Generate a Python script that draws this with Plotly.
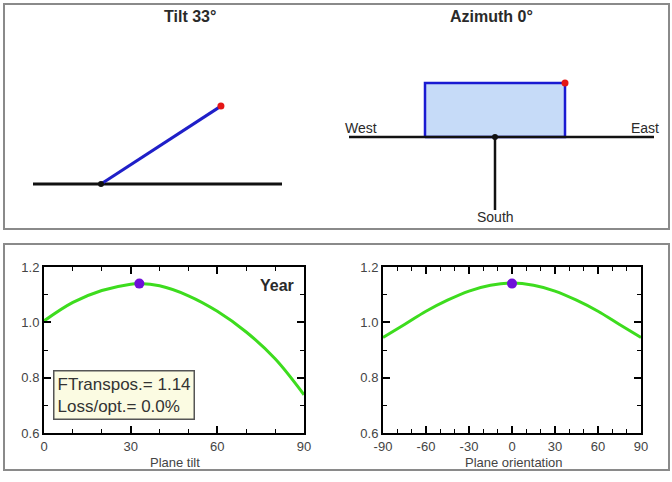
import math
import plotly.graph_objects as go

# ---------------- data ----------------
tilt_deg = 33
azimuth_deg = 0

tilt_x = [0, 10, 20, 30, 33, 40, 50, 60, 70, 80, 90]
tilt_y = [1.005, 1.072, 1.115, 1.138, 1.14, 1.132, 1.096, 1.040, 0.965, 0.868, 0.738]

orient_x = [-90, -75, -60, -45, -30, -15, 0, 15, 30, 45, 60, 75, 90]
orient_y = [0.945, 0.992, 1.040, 1.080, 1.113, 1.134, 1.142, 1.134, 1.113, 1.080, 1.040, 0.992, 0.945]

tilt_ticks = [0, 30, 60, 90]
orient_ticks = [-90, -60, -30, 0, 30, 60, 90]
y_ticks = [0.6, 0.8, 1.0, 1.2]

opt_tilt = 33
opt_orient = 0
ftranspos = 1.14
loss_opt = 0.0

W, H = 672, 482


def px(x):
    return x / W


def py(y):
    return 1 - y / H


fig = go.Figure()

# ------------- top-left: tilt diagram (axis units = pixels) -------------
ground_x = [33, 282]
pivot = (101, 184)
arm = 143
end = (pivot[0] + arm * math.cos(math.radians(tilt_deg)),
       pivot[1] - arm * math.sin(math.radians(tilt_deg)))

fig.add_trace(go.Scatter(x=ground_x, y=[pivot[1], pivot[1]], mode="lines",
                         line=dict(color="#111111", width=3), xaxis="x3", yaxis="y3"))
fig.add_trace(go.Scatter(x=[pivot[0], end[0]], y=[pivot[1], end[1]], mode="lines",
                         line=dict(color="#1f1fc8", width=3), xaxis="x3", yaxis="y3"))
fig.add_trace(go.Scatter(x=[pivot[0]], y=[pivot[1]], mode="markers",
                         marker=dict(color="#111111", size=6), xaxis="x3", yaxis="y3"))
fig.add_trace(go.Scatter(x=[end[0]], y=[end[1]], mode="markers",
                         marker=dict(color="#e41616", size=7), xaxis="x3", yaxis="y3"))

# ------------- top-right: azimuth diagram -------------
c = (495, 137)
half_w, depth = 70, 54
a = math.radians(azimuth_deg)
corners = [(-half_w, 0), (-half_w, -depth), (half_w, -depth), (half_w, 0), (-half_w, 0)]
rx = [c[0] + u * math.cos(a) - v * math.sin(a) for u, v in corners]
ry = [c[1] + u * math.sin(a) + v * math.cos(a) for u, v in corners]

fig.add_trace(go.Scatter(x=rx, y=ry, mode="lines", fill="toself", fillcolor="#c6dbf8",
                         line=dict(color="#1a1ad2", width=2.5), xaxis="x4", yaxis="y4"))
fig.add_trace(go.Scatter(x=[349, 654], y=[c[1], c[1]], mode="lines",
                         line=dict(color="#111111", width=2.5), xaxis="x4", yaxis="y4"))
fig.add_trace(go.Scatter(x=[c[0], c[0]], y=[c[1], 210], mode="lines",
                         line=dict(color="#111111", width=2.5), xaxis="x4", yaxis="y4"))
fig.add_trace(go.Scatter(x=[c[0]], y=[c[1]], mode="markers",
                         marker=dict(color="#111111", size=6), xaxis="x4", yaxis="y4"))
fig.add_trace(go.Scatter(x=[rx[2]], y=[ry[2]], mode="markers",
                         marker=dict(color="#e41616", size=7), xaxis="x4", yaxis="y4"))

# ------------- bottom curves -------------
green = "#3ddc1e"
purple = "#6f10d8"
fig.add_trace(go.Scatter(x=tilt_x, y=tilt_y, mode="lines", line=dict(color=green, width=3, shape="spline"),
                         xaxis="x", yaxis="y"))
fig.add_trace(go.Scatter(x=[opt_tilt], y=[ftranspos], mode="markers",
                         marker=dict(color=purple, size=10), xaxis="x", yaxis="y"))
fig.add_trace(go.Scatter(x=orient_x, y=orient_y, mode="lines", line=dict(color=green, width=3, shape="spline"),
                         xaxis="x2", yaxis="y2"))
fig.add_trace(go.Scatter(x=[opt_orient], y=[ftranspos], mode="markers",
                         marker=dict(color=purple, size=10), xaxis="x2", yaxis="y2"))

FONT = "Arial, Liberation Sans"
axis_font = dict(family=FONT, size=13, color="#444444")
common_ax = dict(showline=True, linecolor="#000000", linewidth=2, mirror="allticks",
                 ticks="inside", ticklen=7, tickcolor="#000000", tickwidth=1.5,
                 showgrid=False, zeroline=False, tickfont=axis_font, fixedrange=True,
                 automargin=False)
minor = dict(ticks="inside", ticklen=4, tickcolor="#000000", tickwidth=1.2, showgrid=False)

hidden = dict(visible=False, fixedrange=True, automargin=False)
y_text = [f"{v:.1f}" for v in y_ticks]

fig.update_layout(
    width=W, height=H, margin=dict(l=0, r=0, t=0, b=0, pad=0, autoexpand=False),
    autosize=False,
    paper_bgcolor="white", plot_bgcolor="white", showlegend=False,
    xaxis=dict(domain=[px(44), px(304)], range=[0, 90], tickvals=tilt_ticks,
               ticktext=[str(v) for v in tilt_ticks],
               minor=dict(dtick=10, **minor), anchor="y", **common_ax),
    yaxis=dict(domain=[py(433), py(267)], range=[0.6, 1.2], tickvals=y_ticks,
               ticktext=y_text, minor=dict(dtick=0.1, **minor), anchor="x", **common_ax),
    xaxis2=dict(domain=[px(383), px(641)], range=[-90, 90], tickvals=orient_ticks,
                ticktext=[str(v) for v in orient_ticks],
                minor=dict(dtick=10, **minor), anchor="y2", **common_ax),
    yaxis2=dict(domain=[py(433), py(267)], range=[0.6, 1.2], tickvals=y_ticks,
                ticktext=y_text, minor=dict(dtick=0.1, **minor), anchor="x2", **common_ax),
    xaxis3=dict(domain=[px(4), px(336)], range=[4, 336], anchor="y3", **hidden),
    yaxis3=dict(domain=[py(229), py(4)], range=[229, 4], anchor="x3", **hidden),
    xaxis4=dict(domain=[px(336), px(669)], range=[336, 669], anchor="y4", **hidden),
    yaxis4=dict(domain=[py(229), py(4)], range=[229, 4], anchor="x4", **hidden),
)

# panel frames
for y0, y1 in [(4, 229), (244, 470)]:
    fig.add_shape(type="rect", xref="paper", yref="paper", x0=px(4), x1=px(669), y0=py(y1), y1=py(y0),
                  line=dict(color="#8a8a8a", width=2), fillcolor="rgba(0,0,0,0)", layer="below")


def label(text, x, y, size, color="#2a2a2a", xanchor="center"):
    fig.add_annotation(text=text, xref="paper", yref="paper", x=px(x), y=py(y),
                       xanchor=xanchor, yanchor="middle", showarrow=False,
                       font=dict(size=size, family=FONT, color=color))


label(f"<b>Tilt {tilt_deg}°</b>", 190, 17, 16)
label(f"<b>Azimuth {azimuth_deg}°</b>", 491, 17, 16)
label("West", 361, 128, 14)
label("East", 645, 128, 14)
label("South", 495, 217, 14)
label("<b>Year</b>", 296, 285, 16, xanchor="right")
label("Plane tilt", 175, 462, 13, color="#444444")
label("Plane orientation", 514, 462, 13, color="#444444")
fig.add_annotation(text=f"FTranspos.= {ftranspos:.2f}<br>Loss/opt.= {loss_opt:.1f}%",
                   xref="paper", yref="paper", x=px(53), y=py(370), xanchor="left", yanchor="top",
                   align="left", showarrow=False, bgcolor="#fbfbe2", bordercolor="#555555",
                   borderwidth=1.5, borderpad=3, font=dict(size=17, family=FONT, color="#333333"))

fig.write_html("out.html", config={"displayModeBar": False},
               post_script="document.body.style.margin='0px';")
